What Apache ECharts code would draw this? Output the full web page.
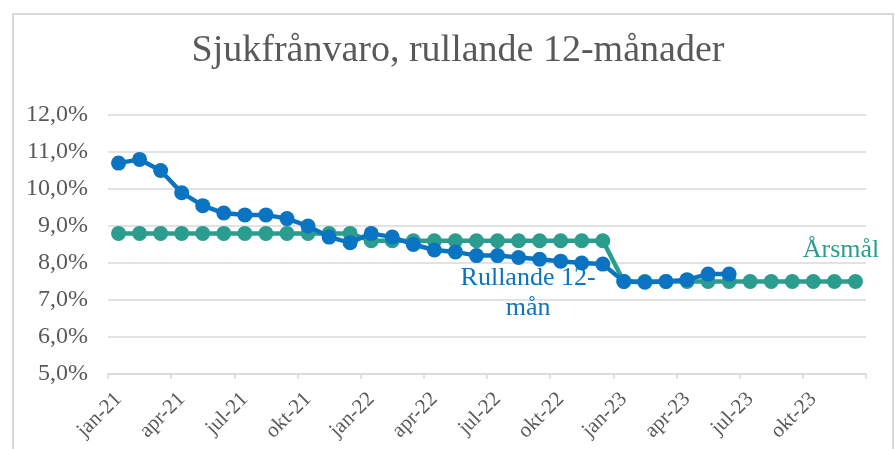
<!DOCTYPE html>
<html>
<head>
<meta charset="utf-8">
<script src="https://cdn.jsdelivr.net/npm/echarts@6/dist/echarts.min.js"></script>
<style>
html,body{margin:0;padding:0;background:#fff;}
#frame{position:absolute;left:12px;top:13px;width:882px;height:450px;border:2px solid #d9d9d9;border-bottom:none;box-sizing:border-box;}
#chart{position:absolute;left:0;top:0;width:895px;height:449px;}
</style>
</head>
<body>
<div id="frame"></div>
<div id="chart"></div>
<script>
const titleText = 'Sjukfrånvaro, rullande 12-månader';
const months = ['jan','feb','mar','apr','maj','jun','jul','aug','sep','okt','nov','dec'];
const years = ['21','22','23'];
const categories = [];
years.forEach(y => months.forEach(m => categories.push(m + '-' + y)));

const rullandeName = 'Rullande 12-mån';
const rullande = [10.7, 10.8, 10.5, 9.9, 9.55, 9.35, 9.3, 9.3, 9.2, 9.0, 8.7, 8.55,
                  8.8, 8.7, 8.5, 8.35, 8.3, 8.2, 8.2, 8.15, 8.1, 8.05, 8.0, 7.97,
                  7.5, 7.48, 7.5, 7.55, 7.7, 7.7];
const arsmalName = 'Årsmål';
const arsmal = [8.8, 8.8, 8.8, 8.8, 8.8, 8.8, 8.8, 8.8, 8.8, 8.8, 8.8, 8.8,
                8.6, 8.6, 8.6, 8.6, 8.6, 8.6, 8.6, 8.6, 8.6, 8.6, 8.6, 8.6,
                7.5, 7.5, 7.5, 7.5, 7.5, 7.5, 7.5, 7.5, 7.5, 7.5, 7.5, 7.5];

const blue = '#0A74C2';
const green = '#2A9D8F';
const serif = '"Liberation Serif", "Times New Roman", serif';

const rullandeData = rullande.map((v, i) => i === 19 ? {
  value: v,
  label: {show: true, formatter: 'Rullande 12-\nmån', position: [17, 43],
          align: 'center', verticalAlign: 'middle',
          color: blue, fontSize: 26, lineHeight: 30, fontFamily: serif}
} : v);
const arsmalData = arsmal.map((v, i) => i === arsmal.length - 1 ? {
  value: v,
  label: {show: true, formatter: arsmalName, position: [-7, -24],
          align: 'center', verticalAlign: 'middle',
          color: green, fontSize: 26, fontFamily: serif}
} : v);

const chart = echarts.init(document.getElementById('chart'), null, {renderer: 'canvas'});
chart.setOption({
  animation: false,
  backgroundColor: 'transparent',
  title: {
    text: titleText, left: 453, textAlign: 'center', top: 27,
    textStyle: {fontFamily: serif, fontSize: 38, fontWeight: 'normal', color: '#595959'}
  },
  grid: {left: 108, right: 29, top: 115, bottom: 75, containLabel: false},
  xAxis: {
    type: 'category', data: categories, boundaryGap: true,
    axisLine: {lineStyle: {color: '#d9d9d9', width: 1.5}},
    axisTick: {show: true, interval: 2, length: 5, lineStyle: {color: '#d9d9d9', width: 1.5}},
    axisLabel: {interval: 2, rotate: 45, margin: 22, color: '#595959', fontSize: 21, fontFamily: serif}
  },
  yAxis: {
    type: 'value', min: 5, max: 12, interval: 1,
    axisLine: {show: false}, axisTick: {show: false},
    splitLine: {lineStyle: {color: '#d9d9d9', width: 1.5}},
    axisLabel: {margin: 20, color: '#595959', fontSize: 24, fontFamily: serif,
      formatter: v => v.toFixed(1).replace('.', ',') + '%'}
  },
  series: [
    {
      name: arsmalName, type: 'line', data: arsmalData, z: 2,
      symbol: 'circle', symbolSize: 15, showAllSymbol: true,
      lineStyle: {color: green, width: 4.5}, itemStyle: {color: green},
      labelLayout: {hideOverlap: false}
    },
    {
      name: rullandeName, type: 'line', data: rullandeData, z: 3,
      symbol: 'circle', symbolSize: 15, showAllSymbol: true,
      lineStyle: {color: blue, width: 4.5}, itemStyle: {color: blue},
      labelLayout: {hideOverlap: false}
    }
  ]
});
</script>
</body>
</html>
